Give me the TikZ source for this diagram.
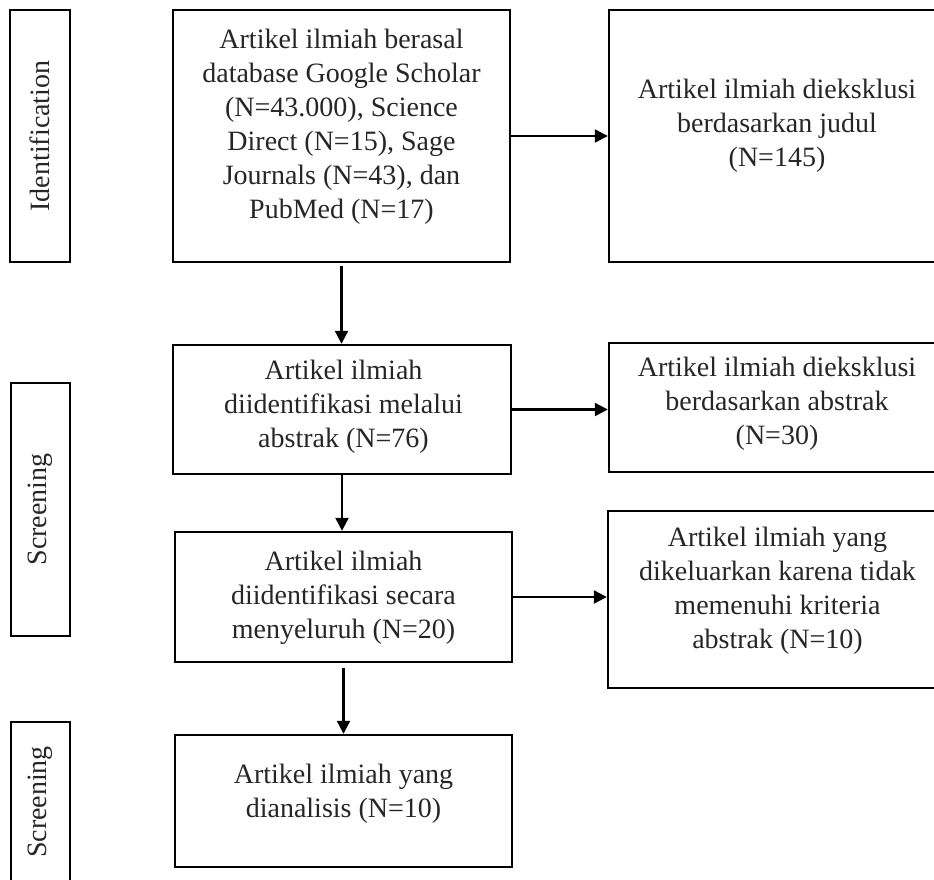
\documentclass[tikz,border=0pt]{standalone}
\usepackage{fontspec}
\setmainfont{Liberation Serif}
\usetikzlibrary{arrows.meta}
\begin{document}
\begin{tikzpicture}[x=1pt,y=-1pt]
\tikzset{
 box/.style={draw, line width=2.4pt, rectangle, inner sep=0pt},
 txt/.style={align=center, font=\fontsize{28}{34}\selectfont, inner sep=0pt, text=black!85},
 arr/.style={line width=2.2pt, -{Triangle[length=13pt,width=13pt]}},
}
\useasboundingbox (0,0) rectangle (934,880);
\clip (0,0) rectangle (934,880);
% left stage labels
\node[box, minimum width=60pt, minimum height=252pt] (L1) at (40,136) {};
\node[box, minimum width=59pt, minimum height=253pt] (L2) at (40.5,509.5) {};
\node[box, minimum width=59pt, minimum height=178pt] (L3) at (40.5,811) {};
\node[txt, rotate=90] (l1) at (L1.center) {Identification};
\node[txt, rotate=90] (l2) at (L2.center) {Screening};
\node[txt, rotate=90] (l3) at (40.5,802) {Screening};
% main boxes
\node[box, minimum width=337pt, minimum height=252pt] (b1) at (341.5,136) {};
\node[box, minimum width=351pt, minimum height=252pt] (r1) at (784.5,136) {};
\node[box, minimum width=338pt, minimum height=129pt] (b2) at (342,409.5) {};
\node[box, minimum width=351pt, minimum height=129pt] (r2) at (784.5,407.5) {};
\node[box, minimum width=337pt, minimum height=130pt] (b3) at (343.5,597) {};
\node[box, minimum width=352pt, minimum height=177pt] (r3) at (784,599.5) {};
\node[box, minimum width=337pt, minimum height=132pt] (b4) at (343.5,801) {};
% texts
\node[txt] (t1) at (341.5,127) {Artikel ilmiah berasal\\database Google Scholar\\(N=43.000), Science\\Direct (N=15), Sage\\Journals (N=43), dan\\PubMed (N=17)};
\node[txt] (tr1) at (777,126) {Artikel ilmiah dieksklusi\\berdasarkan judul\\(N=145)};
\node[txt] (t2) at (343.5,407) {Artikel ilmiah\\diidentifikasi melalui\\abstrak (N=76)};
\node[txt] (tr2) at (777,404) {Artikel ilmiah dieksklusi\\berdasarkan abstrak\\(N=30)};
\node[txt] (t3) at (343.5,598) {Artikel ilmiah\\diidentifikasi secara\\menyeluruh (N=20)};
\node[txt] (tr3) at (777.5,591) {Artikel ilmiah yang\\dikeluarkan karena tidak\\memenuhi kriteria\\abstrak (N=10)};
\node[txt] (t4) at (343.5,794) {Artikel ilmiah yang\\dianalisis (N=10)};
% arrows
\draw[arr] (b1.east) -- (r1.west);
\draw[arr] (b2.east) -- (b2.east -| r2.west);
\draw[arr] (b3.east) -- (b3.east -| r3.west);
\draw[arr, shorten <=3pt] (b1.south) -- (b1.south |- b2.north);
\draw[arr] (b2.south) -- (b2.south |- b3.north);
\draw[arr, shorten <=5pt] (b3.south) -- (b3.south |- b4.north);
\end{tikzpicture}
\end{document}
